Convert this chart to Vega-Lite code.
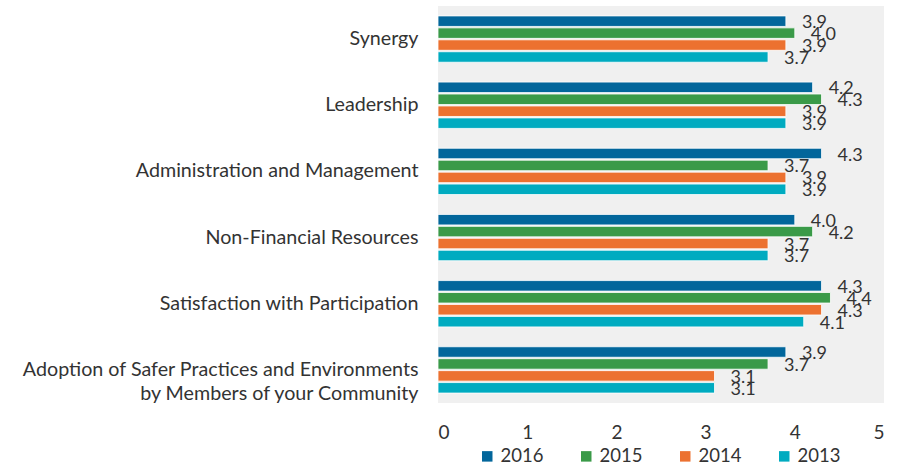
{
  "$schema": "https://vega.github.io/schema/vega-lite/v6.json",
  "autosize": {"type": "none"},
  "padding": {"left": 438, "top": 6, "right": 17, "bottom": 63},
  "width": 446,
  "height": 397,
  "config": {
    "font": "Lato",
    "view": {"fill": "#f0f0f0", "stroke": null}
  },
  "data": {
    "values": [
      {"category": "Synergy", "year": "2016", "value": 3.9},
      {"category": "Synergy", "year": "2015", "value": 4.0},
      {"category": "Synergy", "year": "2014", "value": 3.9},
      {"category": "Synergy", "year": "2013", "value": 3.7},
      {"category": "Leadership", "year": "2016", "value": 4.2},
      {"category": "Leadership", "year": "2015", "value": 4.3},
      {"category": "Leadership", "year": "2014", "value": 3.9},
      {"category": "Leadership", "year": "2013", "value": 3.9},
      {"category": "Administration and Management", "year": "2016", "value": 4.3},
      {"category": "Administration and Management", "year": "2015", "value": 3.7},
      {"category": "Administration and Management", "year": "2014", "value": 3.9},
      {"category": "Administration and Management", "year": "2013", "value": 3.9},
      {"category": "Non-Financial Resources", "year": "2016", "value": 4.0},
      {"category": "Non-Financial Resources", "year": "2015", "value": 4.2},
      {"category": "Non-Financial Resources", "year": "2014", "value": 3.7},
      {"category": "Non-Financial Resources", "year": "2013", "value": 3.7},
      {"category": "Satisfaction with Participation", "year": "2016", "value": 4.3},
      {"category": "Satisfaction with Participation", "year": "2015", "value": 4.4},
      {"category": "Satisfaction with Participation", "year": "2014", "value": 4.3},
      {"category": "Satisfaction with Participation", "year": "2013", "value": 4.1},
      {"category": "Adoption of Safer Practices and Environments by Members of your Community", "year": "2016", "value": 3.9},
      {"category": "Adoption of Safer Practices and Environments by Members of your Community", "year": "2015", "value": 3.7},
      {"category": "Adoption of Safer Practices and Environments by Members of your Community", "year": "2014", "value": 3.1},
      {"category": "Adoption of Safer Practices and Environments by Members of your Community", "year": "2013", "value": 3.1}
    ]
  },
  "encoding": {
    "y": {
      "field": "category",
      "type": "nominal",
      "sort": null,
      "scale": {"paddingInner": 0.3, "paddingOuter": 0.15},
      "axis": {
        "title": null,
        "ticks": false,
        "domain": false,
        "labelFontSize": 19.7,
        "labelColor": "#333333",
        "labelPadding": 20,
        "labelLimit": 500,
        "labelLineHeight": 24,
        "labelExpr": "datum.label == 'Adoption of Safer Practices and Environments by Members of your Community' ? ['Adoption of Safer Practices and Environments', 'by Members of your Community'] : datum.label"
      }
    },
    "yOffset": {
      "field": "year",
      "type": "nominal",
      "sort": ["2016", "2015", "2014", "2013"],
      "scale": {"paddingInner": 0.12}
    },
    "x": {
      "field": "value",
      "type": "quantitative",
      "scale": {"domain": [0, 5]},
      "axis": {
        "title": null,
        "grid": false,
        "ticks": false,
        "domain": false,
        "tickCount": 5,
        "labelFontSize": 19,
        "labelColor": "#333333",
        "labelPadding": 20
      }
    }
  },
  "layer": [
    {
      "mark": {"type": "bar", "stroke": "white", "strokeWidth": 0.8},
      "encoding": {
        "color": {
          "field": "year",
          "type": "nominal",
          "sort": ["2016", "2015", "2014", "2013"],
          "scale": {
            "domain": ["2016", "2015", "2014", "2013"],
            "range": ["#02669b", "#3a9a48", "#ec7130", "#00abc0"]
          },
          "legend": {
            "title": null,
            "orient": "none",
            "legendX": 40,
            "legendY": 441,
            "direction": "horizontal",
            "symbolType": "square",
            "symbolSize": 110,
            "symbolStrokeWidth": 0,
            "labelFontSize": 18.5,
            "labelColor": "#333333",
            "columnPadding": 33
          }
        }
      }
    },
    {
      "mark": {"type": "text", "align": "left", "baseline": "middle", "dx": 16, "dy": 2, "fontSize": 18, "color": "#333333"},
      "encoding": {
        "text": {"field": "value", "type": "quantitative", "format": ".1f"}
      }
    }
  ]
}
